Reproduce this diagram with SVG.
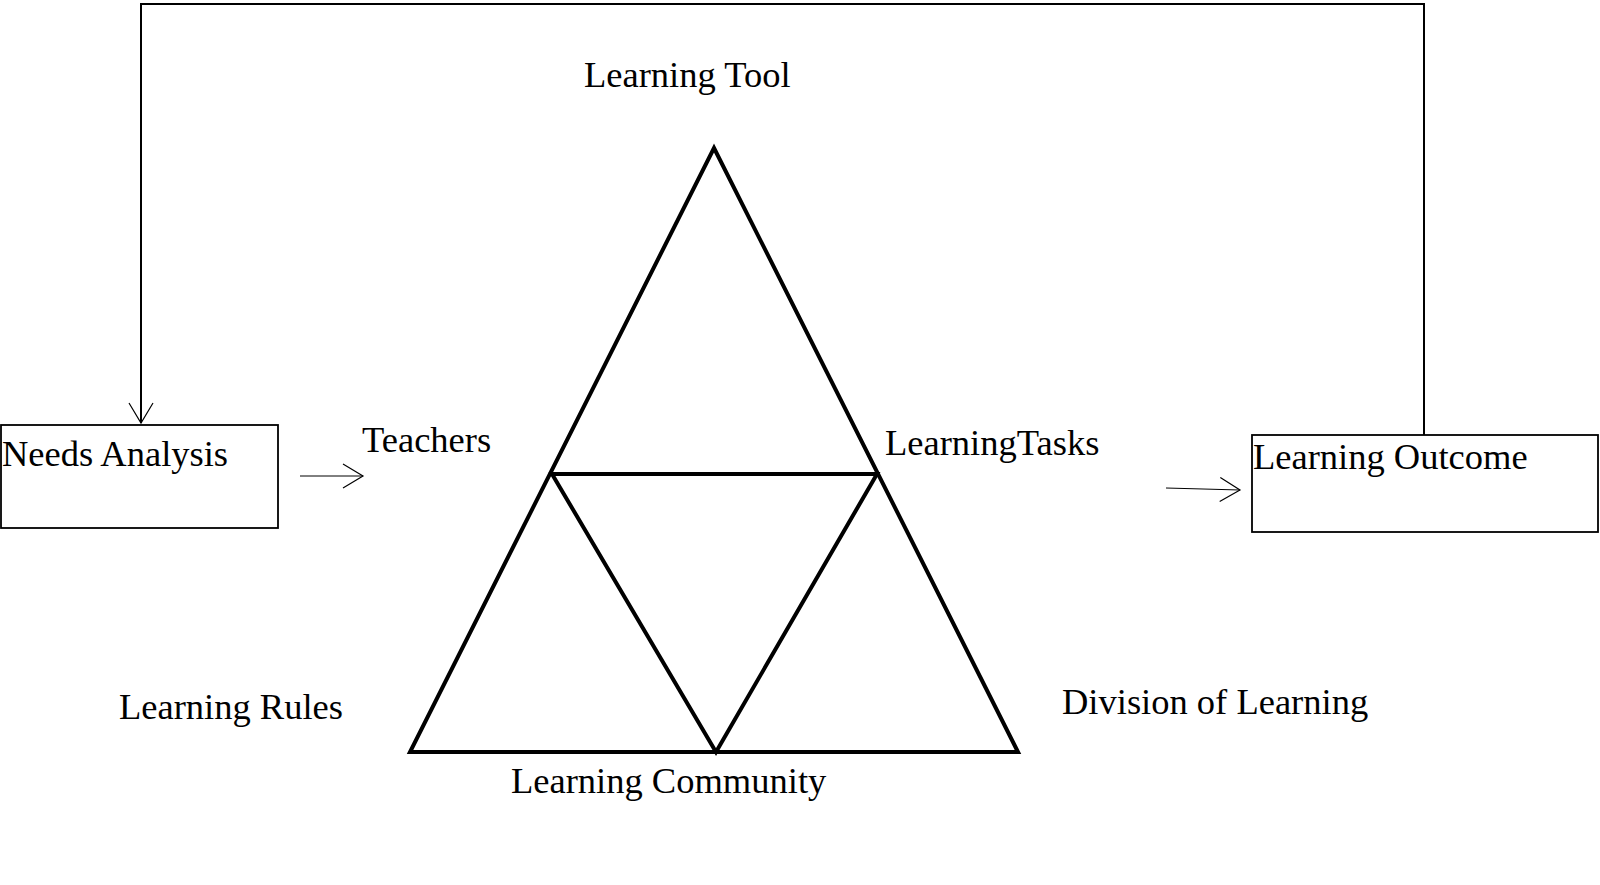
<svg xmlns="http://www.w3.org/2000/svg" width="1600" height="885" viewBox="0 0 1600 885">
<style>
text{font-family:"Liberation Serif","Times New Roman",serif;font-size:36.5px;fill:#000}
.box{fill:#fff;stroke:#000;stroke-width:1.8}
.tri{fill:none;stroke:#000;stroke-width:4;stroke-linejoin:miter}
.con{fill:none;stroke:#000;stroke-width:2}
.thin{fill:none;stroke:#000;stroke-width:1}
</style>
<defs>
<marker id="arr" markerWidth="24" markerHeight="28" refX="21" refY="13" orient="auto" markerUnits="userSpaceOnUse">
<path d="M1,1 L21,13 L1,25" fill="none" stroke="#000" stroke-width="1.2"/>
</marker>
</defs>
<rect width="1600" height="885" fill="#fff"/>
<g id="connectors">
<path class="con" d="M1424,435 V4 H141 V423" marker-end="url(#arr)"/>
<line class="thin" x1="300" y1="476" x2="363" y2="476" marker-end="url(#arr)"/>
<line class="thin" x1="1166" y1="488" x2="1240" y2="490" marker-end="url(#arr)"/>
</g>
<g id="triangle">
<polygon class="tri" points="714,148 1018,752 410,752"/>
<polygon class="tri" points="552,474 877,474 716,752"/>
</g>
<g id="needs-analysis">
<rect class="box" x="1" y="425" width="277" height="103"/>
<text x="2" y="466" font-size="35.5">Needs Analysis</text>
</g>
<g id="learning-outcome">
<rect class="box" x="1252" y="435" width="346" height="97"/>
<text x="1253" y="469">Learning Outcome</text>
</g>
<g id="learning-tool"><text x="584" y="87">Learning Tool</text></g>
<g id="teachers"><text x="362" y="452">Teachers</text></g>
<g id="learning-tasks"><text x="885" y="455">LearningTasks</text></g>
<g id="learning-rules"><text x="119" y="719">Learning Rules</text></g>
<g id="division-of-learning"><text x="1062" y="714">Division of Learning</text></g>
<g id="learning-community"><text x="511" y="793">Learning Community</text></g>
</svg>
